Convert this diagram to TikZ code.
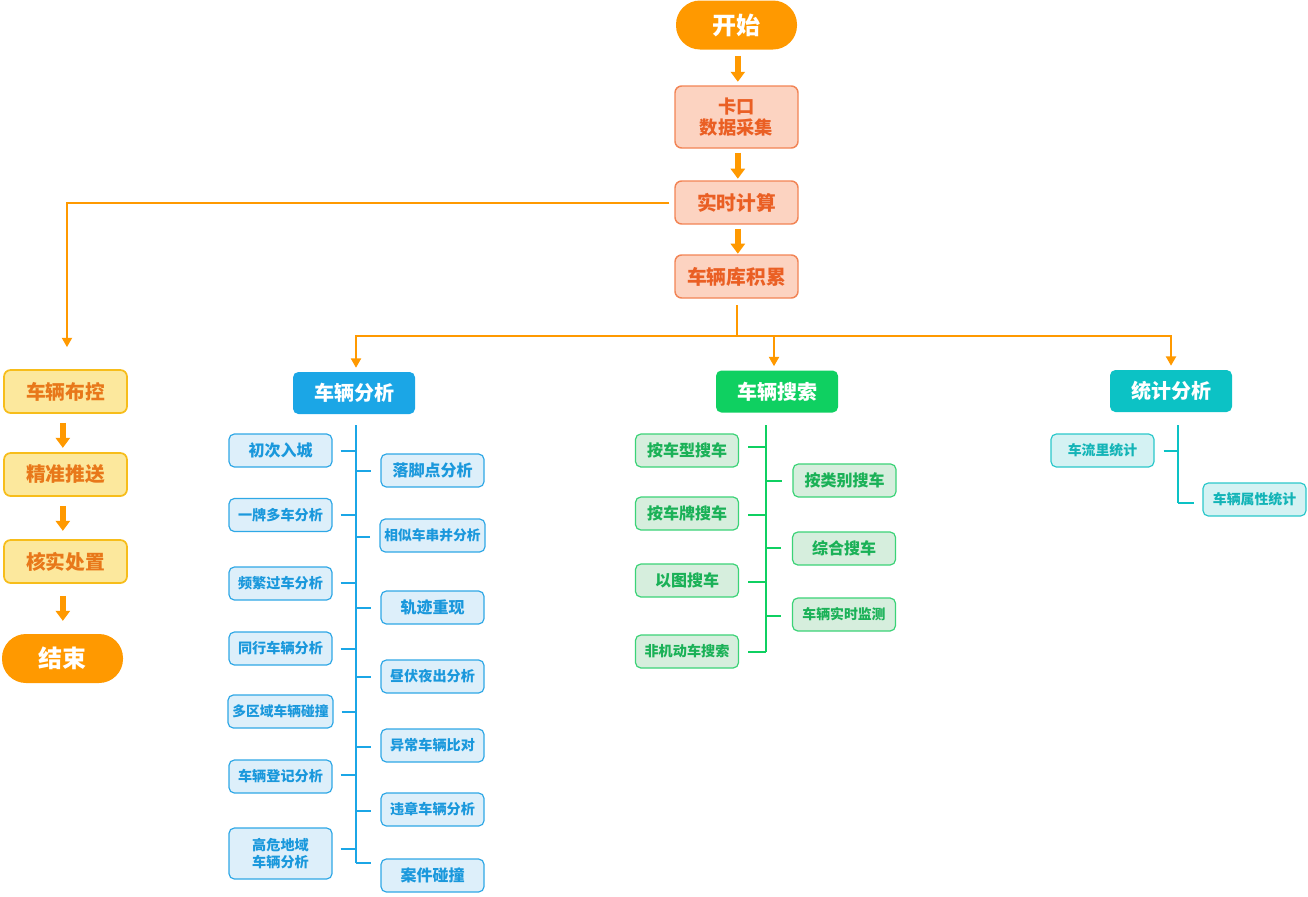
\documentclass[tikz,border=0pt]{standalone}
\usepackage{fontspec}
\setmainfont{Noto Sans CJK SC}
\usetikzlibrary{arrows.meta}
\definecolor{org}{HTML}{FF9900}
\definecolor{pchf}{HTML}{FCD3C1}
\definecolor{pchd}{HTML}{F28455}
\definecolor{pcht}{HTML}{EA5F24}
\definecolor{ylwf}{HTML}{FCE89D}
\definecolor{ylwd}{HTML}{F7BD1A}
\definecolor{ylwt}{HTML}{E8781A}
\definecolor{bluh}{HTML}{1BA6E6}
\definecolor{grnh}{HTML}{0FD061}
\definecolor{cyah}{HTML}{0CC2C5}
\definecolor{bluf}{HTML}{DDEFFA}
\definecolor{blud}{HTML}{2FA8E6}
\definecolor{blut}{HTML}{1A98DC}
\definecolor{grnf}{HTML}{D6EEDD}
\definecolor{grnd}{HTML}{3BD377}
\definecolor{grnt}{HTML}{1AB157}
\definecolor{cyaf}{HTML}{D4F2F3}
\definecolor{cyad}{HTML}{2BC8CB}
\definecolor{cyat}{HTML}{13B4B7}
\tikzset{
  fnt/.style={font=\bfseries\fontsize{#1}{#1}\selectfont},
  term/.style={fill=org, rounded corners=18pt, minimum width=90.75pt, minimum height=36.75pt, text=white, fnt=18},
  pch/.style={fill=pchf, draw=pchd, line width=1.1pt, rounded corners=5pt, minimum width=92.25pt, minimum height=32.25pt, text=pcht, align=center},
  ylw/.style={fill=ylwf, draw=ylwd, line width=1.3pt, rounded corners=5pt, minimum width=92.25pt, minimum height=32.25pt, text=ylwt, fnt=14.8},
  head/.style={rounded corners=4pt, minimum width=91.5pt, minimum height=31.5pt, text=white, fnt=15},
  leaf/.style={rounded corners=4pt, line width=0.9pt, minimum width=77.25pt, minimum height=24.75pt, align=center},
  bleaf/.style={leaf, fill=bluf, draw=blud, text=blut},
  gleaf/.style={leaf, fill=grnf, draw=grnd, text=grnt},
  cleaf/.style={leaf, fill=cyaf, draw=cyad, text=cyat},
  barr/.style={draw=org, line width=4pt, -{Triangle[width=10.5pt,length=7.5pt]}},
  oline/.style={draw=org, line width=1.5pt},
  oarr/.style={oline, -{Triangle[width=7.5pt,length=7pt]}},
  bline/.style={draw=bluh, line width=1.7pt},
  gline/.style={draw=grnh, line width=1.7pt},
  cline/.style={draw=cyah, line width=1.7pt},
}
\begin{document}
\begin{tikzpicture}[x=0.75pt,y=-0.75pt]
\useasboundingbox (0,0) rectangle (1308,896);
% main column
\node[term] (start) at (736.5,25) {开始};
\node[pch, minimum height=46.5pt, fnt=13.7] (kk) at (736.5,117) {卡口\\[1.5pt]数据采集};
\node[pch, fnt=14.8] (ss) at (736.5,202.5) {实时计算};
\node[pch, fnt=14.8] (kl) at (736.5,276.5) {车辆库积累};
\draw[barr] ([xshift=1pt,yshift=-4.5pt]start.south) -- +(0,26);
\draw[barr] ([xshift=1pt,yshift=-3pt]kk.south) -- +(0,26);
\draw[barr] ([xshift=1pt,yshift=-3pt]ss.south) -- +(0,25);
% left column
\node[ylw] (bk) at (65.5,391.5) {车辆布控};
\node[ylw] (jz) at (65.5,474.5) {精准推送};
\node[ylw] (hs) at (65.5,561.5) {核实处置};
\node[term] (end) at (62.5,658.5) {结束};
\draw[barr] ([xshift=-2pt,yshift=-6.75pt]bk.south) -- +(0,25);
\draw[barr] ([xshift=-2pt,yshift=-6.75pt]jz.south) -- +(0,25);
\draw[barr] ([xshift=-2pt,yshift=-9pt]hs.south) -- +(0,25);
\draw[oarr] ([xshift=-3.75pt]ss.west) -| ([xshift=1.1pt,yshift=16.5pt]bk.north);
% headers
\node[head, fill=bluh] (va) at (354,393) {车辆分析};
\node[head, fill=grnh] (vs) at (777,391.5) {车辆搜索};
\node[head, fill=cyah] (st) at (1171,391) {统计分析};
\coordinate (hub) at (736.5,336);
\draw[oline] ([yshift=-5pt]kl.south) -- (hub);
\draw[oarr] (hub) -| ([xshift=1.5pt,yshift=3pt]va.north);
\draw[oarr] (hub) -| ([xshift=-2.25pt,yshift=3pt]vs.north);
\draw[oarr] (hub) -| ([yshift=3pt]st.north);
% blue tree
\coordinate (bt) at (356,425);
\coordinate (bb) at (356,863);
\draw[bline] (bt) -- (bb);
\node[bleaf, fnt=12] (b1) at (280.5,450.5) {初次入城};
\node[bleaf, fnt=10.6] (b2) at (280.5,515) {一牌多车分析};
\node[bleaf, fnt=10.6] (b3) at (280.5,583.5) {频繁过车分析};
\node[bleaf, fnt=10.6] (b4) at (280.5,648.5) {同行车辆分析};
\node[bleaf, fnt=10.3] (b5) at (280.5,711.5) {多区域车辆碰撞};
\node[bleaf, fnt=10.6] (b6) at (280.5,776.5) {车辆登记分析};
\node[bleaf, fnt=10.6, minimum height=38.25pt] (b7) at (280.5,853.5) {高危地域\\[2pt]车辆分析};
\foreach \n/\y in {b1/451,b2/515,b3/583,b4/649,b5/712,b6/775,b7/849}
  \draw[bline] ([xshift=6pt]\n.east |- 0,\y) -- (bt |- 0,\y);
\node[bleaf, fnt=12] (r1) at (432.5,470.5) {落脚点分析};
\node[bleaf, fnt=10.3] (r2) at (432.5,535.5) {相似车串并分析};
\node[bleaf, fnt=12] (r3) at (432.5,607.5) {轨迹重现};
\node[bleaf, fnt=10.6] (r4) at (432.5,676.5) {昼伏夜出分析};
\node[bleaf, fnt=10.6] (r5) at (432.5,745.5) {异常车辆比对};
\node[bleaf, fnt=10.6] (r6) at (432.5,809.5) {违章车辆分析};
\node[bleaf, fnt=12] (r7) at (432.5,875.5) {案件碰撞};
\foreach \n/\y in {r1/471,r2/537,r3/608,r4/677,r5/747,r6/811,r7/863}
  \draw[bline] (bt |- 0,\y) -- ([xshift=-6.75pt]\n.west |- 0,\y);
% green tree
\coordinate (gt) at (766,425);
\coordinate (gb) at (766,652);
\draw[gline] (gt) -- (gb);
\node[gleaf, fnt=12] (g1) at (687,450.5) {按车型搜车};
\node[gleaf, fnt=12] (g2) at (687,513.5) {按车牌搜车};
\node[gleaf, fnt=12] (g3) at (687,580.5) {以图搜车};
\node[gleaf, fnt=10.6] (g4) at (687,651.5) {非机动车搜索};
\foreach \n/\y in {g1/447,g2/515,g3/582,g4/652}
  \draw[gline] ([xshift=6.75pt]\n.east |- 0,\y) -- (gt |- 0,\y);
\node[gleaf, fnt=12] (h1) at (844.5,480.5) {按类别搜车};
\node[gleaf, fnt=12] (h2) at (844,548.5) {综合搜车};
\node[gleaf, fnt=10.4] (h3) at (844,614.5) {车辆实时监测};
\foreach \n/\y in {h1/481,h2/548,h3/616}
  \draw[gline] (gt |- 0,\y) -- ([xshift=-8pt]\n.west |- 0,\y);
% cyan tree
\coordinate (ct) at (1178,425);
\coordinate (cb) at (1178,503);
\draw[cline] (ct) -- (cb);
\node[cleaf, fnt=10.4] (c1) at (1102.5,450.5) {车流里统计};
\node[cleaf, fnt=10.4] (c2) at (1254.5,499.5) {车辆属性统计};
\draw[cline] ([xshift=6.75pt]c1.east |- 0,451) -- (ct |- 0,451);
\draw[cline] (cb) -- ([xshift=-6pt]c2.west |- cb);
\end{tikzpicture}
\end{document}
